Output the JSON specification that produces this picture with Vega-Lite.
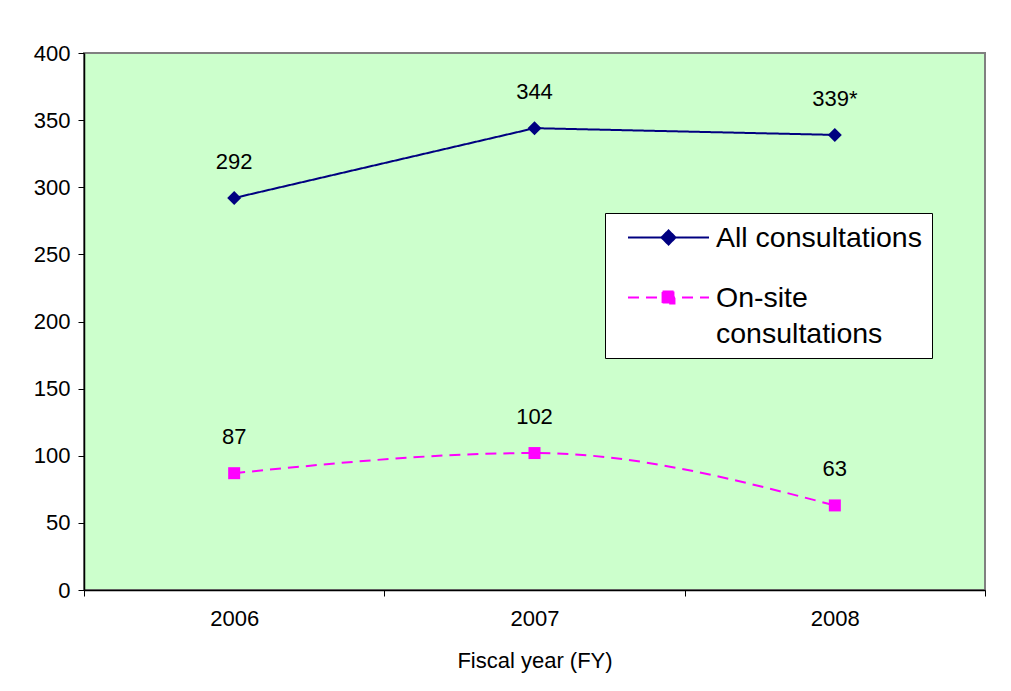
{
  "$schema": "https://vega.github.io/schema/vega-lite/v6.json",
  "autosize": "none",
  "width": 901,
  "height": 537,
  "padding": {"left": 84, "top": 53, "right": 26, "bottom": 101},
  "background": "white",
  "config": {
    "font": "Liberation Sans",
    "view": {"fill": "#CCFFCC", "stroke": "#808080", "strokeWidth": 2},
    "axis": {"domainColor": "black", "tickColor": "black", "labelColor": "black", "titleColor": "black", "grid": false, "labelFont": "Liberation Sans", "titleFont": "Liberation Sans", "titleFontWeight": "normal"}
  },
  "data": {
    "values": [
      {"year": "2006", "series": "All consultations", "value": 292, "label": "292"},
      {"year": "2007", "series": "All consultations", "value": 344, "label": "344"},
      {"year": "2008", "series": "All consultations", "value": 339, "label": "339*"},
      {"year": "2006", "series": "On-site consultations", "value": 87, "label": "87"},
      {"year": "2007", "series": "On-site consultations", "value": 102, "label": "102"},
      {"year": "2008", "series": "On-site consultations", "value": 63, "label": "63"}
    ]
  },
  "encoding": {
    "x": {
      "field": "year", "type": "ordinal",
      "bandPosition": 0.5,
      "scale": {"type": "band", "paddingInner": 0, "paddingOuter": 0},
      "axis": {
        "title": "Fiscal year (FY)",
        "labelAngle": 0,
        "tickBand": "extent",
        "tickSize": 6,
        "labelFontSize": 22,
        "labelPadding": 12,
        "titleFontSize": 22,
        "titlePadding": 21,
        "domainWidth": 1.5
      }
    },
    "y": {
      "field": "value", "type": "quantitative",
      "scale": {"domain": [0, 400], "nice": false},
      "axis": {"title": null, "values": [0, 50, 100, 150, 200, 250, 300, 350, 400], "tickSize": 6, "labelFontSize": 22, "labelPadding": 8, "domainWidth": 1.5}
    }
  },
  "layer": [
    {
      "transform": [{"filter": "datum.series == 'All consultations'"}],
      "mark": {"type": "line", "strokeWidth": 2, "interpolate": "linear"},
      "encoding": {
        "color": {
          "field": "series", "type": "nominal",
          "scale": {"domain": ["All consultations", "On-site consultations"], "range": ["#000080", "#FF00FF"]},
          "legend": {
            "title": null,
            "orient": "none",
            "legendX": 521,
            "legendY": 160,
            "fillColor": "white",
            "strokeColor": "black",
            "padding": 10,
            "labelFontSize": 28.5,
            "labelFont": "Liberation Sans",
            "labelColor": "black",
            "labelOffset": 72,
            "labelLimit": 400,
            "rowPadding": 31,
            "symbolSize": 729,
            "symbolStrokeWidth": 2,
            "labelExpr": "datum.label == 'On-site consultations' ? ['On-site', 'consultations'] : datum.label",
            "encode": {
              "symbols": {"update": {
                "shape": {"signal": "datum.value == 'All consultations' ? 'M-0.11,0H5.89M2.37,0L2.89,-0.52L3.41,0L2.89,0.52Z' : 'M-0.11,0H5.89M2.45,-0.44H3.33V0.44H2.45Z'"},
                "fill": {"signal": "datum.value == 'All consultations' ? '#000080' : '#FF00FF'"},
                "fillOpacity": {"value": 1}
              }},
              "labels": {"update": {"lineHeight": {"value": 36}}}
            }
          }
        },
        "strokeDash": {
          "field": "series", "type": "nominal",
          "scale": {"domain": ["All consultations", "On-site consultations"], "range": [[1, 0], [11, 7]]}
        }
      }
    },
    {
      "transform": [{"filter": "datum.series == 'On-site consultations'"}],
      "mark": {"type": "line", "strokeWidth": 2, "interpolate": "monotone"},
      "encoding": {
        "color": {"field": "series", "type": "nominal"},
        "strokeDash": {"field": "series", "type": "nominal"}
      }
    },
    {
      "transform": [{"filter": "datum.series == 'All consultations'"}],
      "mark": {"type": "point", "filled": true, "size": 196, "opacity": 1, "shape": "diamond", "color": "#000080"},
      "encoding": {}
    },
    {
      "transform": [{"filter": "datum.series == 'On-site consultations'"}],
      "mark": {"type": "point", "filled": true, "size": 144, "opacity": 1, "shape": "square", "color": "#FF00FF"},
      "encoding": {}
    },
    {
      "mark": {"type": "text", "dy": -36, "fontSize": 22, "color": "black", "font": "Liberation Sans"},
      "encoding": {"text": {"field": "label"}}
    }
  ]
}
